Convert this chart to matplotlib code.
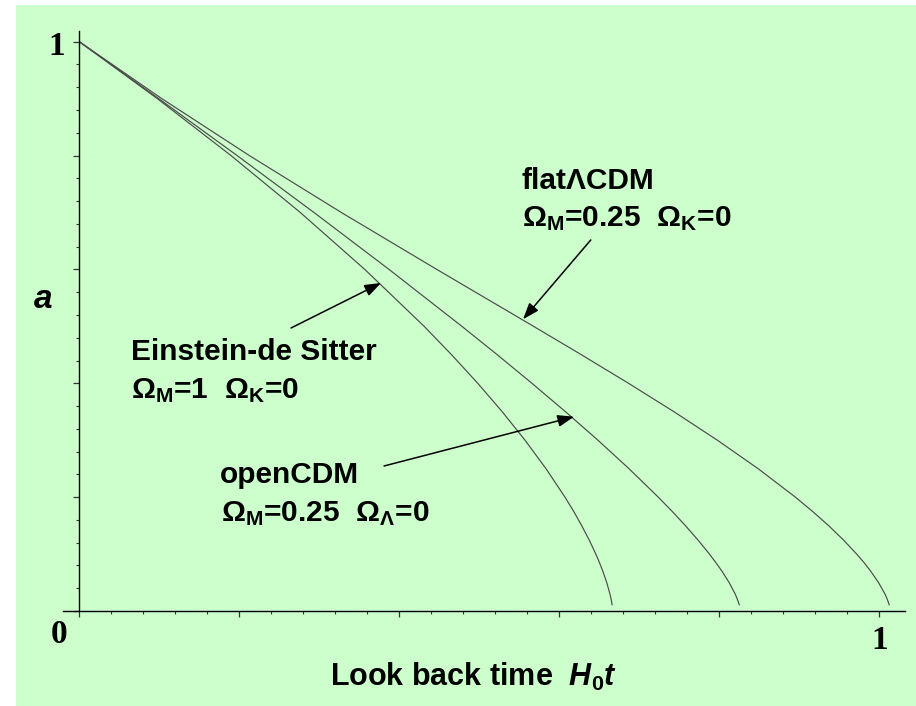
import matplotlib
matplotlib.use("Agg")
import matplotlib.pyplot as plt
from matplotlib.patches import Rectangle
from matplotlib.ticker import MultipleLocator

plt.rcParams['font.family'] = ['Liberation Sans', 'DejaVu Sans']
plt.rcParams['mathtext.fontset'] = 'custom'
plt.rcParams['mathtext.rm'] = 'Liberation Sans:bold'
plt.rcParams['mathtext.it'] = 'Liberation Sans:italic:bold'
plt.rcParams['mathtext.bf'] = 'Liberation Sans:bold'

# ---- data (scale factor a vs look back time H0 t) ----
a_vals = [1.0, 0.9, 0.8, 0.7, 0.6, 0.5, 0.45, 0.4, 0.35, 0.3, 0.25, 0.2, 0.175, 0.15,
          0.125, 0.1, 0.085, 0.07, 0.05, 0.03, 0.02, 0.01]
t_eds = [0.0, 0.0975, 0.1896, 0.2762, 0.3568, 0.4310, 0.4654, 0.4980, 0.5286, 0.5571,
         0.5833, 0.6070, 0.6179, 0.6279, 0.6372, 0.6456, 0.6501, 0.6543, 0.6592,
         0.6632, 0.6648, 0.6660]
t_open = [0.0, 0.0993, 0.1972, 0.2933, 0.3871, 0.4782, 0.5225, 0.5657, 0.6077, 0.6482,
          0.6870, 0.7236, 0.7410, 0.7575, 0.7731, 0.7876, 0.7956, 0.8032, 0.8122,
          0.8197, 0.8227, 0.8251]
t_flat = [0.0, 0.1031, 0.2125, 0.3275, 0.4468, 0.5678, 0.6277, 0.6864, 0.7433, 0.7975,
          0.8484, 0.8950, 0.9164, 0.9365, 0.9549, 0.9716, 0.9808, 0.9891, 0.9989,
          1.0069, 1.0100, 1.0125]

x_tick_labels = {0.0: "0", 1.0: "1"}
y_tick_labels = {1.0: "1"}

W, H = 916, 706
fig = plt.figure(figsize=(W / 100, H / 100), dpi=100, facecolor='white')

# green panel
fig.patches.append(Rectangle((16 / W, 0), 1 - 16 / W, 1 - 5 / H, transform=fig.transFigure,
                             facecolor='#CCFFCC', edgecolor='none', zorder=-10))

ax = fig.add_axes([63.3 / W, 95 / H, 841.7 / W, 580.3 / H])
ax.set_zorder(1)
ax.patch.set_alpha(0)
ax.set_xlim(-0.02, 1.032)
ax.set_ylim(0, 1.0193)

for t in (t_eds, t_open, t_flat):
    ax.plot(t, a_vals, color='#4a4a4a', lw=0.85, solid_capstyle='butt')

for s in ('top', 'right'):
    ax.spines[s].set_visible(False)
ax.spines['left'].set_position(('data', 0))
ax.spines['bottom'].set_position(('data', 0))
for s in ('left', 'bottom'):
    ax.spines[s].set_linewidth(1.0)
    ax.spines[s].set_color('black')

ax.xaxis.set_major_locator(MultipleLocator(0.2))
ax.xaxis.set_minor_locator(MultipleLocator(0.04))
ax.yaxis.set_major_locator(MultipleLocator(0.2))
ax.yaxis.set_minor_locator(MultipleLocator(0.04))
ax.tick_params(which='major', direction='out', length=4.5, width=0.9, color='#333333',
               labelbottom=False, labelleft=False)
ax.tick_params(which='minor', direction='out', length=2.3, width=0.8, color='#333333')

serif = dict(family=['Liberation Serif', 'DejaVu Serif'], weight='bold', fontsize=24)
ax.text(-0.025, -0.0567, x_tick_labels[0.0], ha='center', va='baseline', clip_on=False, **serif)
ax.text(1.0, -0.0673, x_tick_labels[1.0], ha='center', va='baseline', clip_on=False, **serif)
ax.text(-0.0279, 0.9772, y_tick_labels[1.0], ha='center', va='baseline', clip_on=False, **serif)

ax.text(-0.0455, 0.5328, 'a', ha='center', va='baseline', fontsize=24,
        fontweight='bold', fontstyle='italic', clip_on=False)
ax.text(0.3134, -0.1317, r'Look back time  $\mathit{H}_{0}\mathit{t}$', ha='left',
        va='baseline', fontsize=22, fontweight='bold', clip_on=False)

def px(x, y):
    return ((x - 79.3) / 800.0, (611.0 - y) / 569.3)

fs = 21.5
lab = dict(ha='left', va='baseline', fontsize=fs, fontweight='bold', clip_on=False)
ax.text(*px(131, 360), 'Einstein-de Sitter', **lab)
ax.text(*px(131, 398), r'Ω$_{\rm M}$=1  Ω$_{\rm K}$=0', **lab)
ax.text(*px(521.5, 189.3), 'flatΛCDM', **lab)
ax.text(*px(522, 226.7), r'Ω$_{\rm M}$=0.25  Ω$_{\rm K}$=0', **lab)
ax.text(*px(219.5, 482.7), 'openCDM', **lab)
ax.text(*px(220.5, 521.7), r'Ω$_{\rm M}$=0.25  Ω$_{\Lambda}$=0', **lab)

arrow = dict(arrowstyle='-|>,head_length=0.55,head_width=0.2', mutation_scale=18,
             lw=1.1, color='black', shrinkA=0, shrinkB=0)
ax.annotate('', xy=px(381, 283), xytext=px(291, 328), arrowprops=arrow)
ax.annotate('', xy=px(523, 319.3), xytext=px(590.7, 240), arrowprops=arrow)
ax.annotate('', xy=px(574, 416.7), xytext=px(384, 466), arrowprops=arrow)

fig.savefig('out.png', dpi=100, facecolor='white')
